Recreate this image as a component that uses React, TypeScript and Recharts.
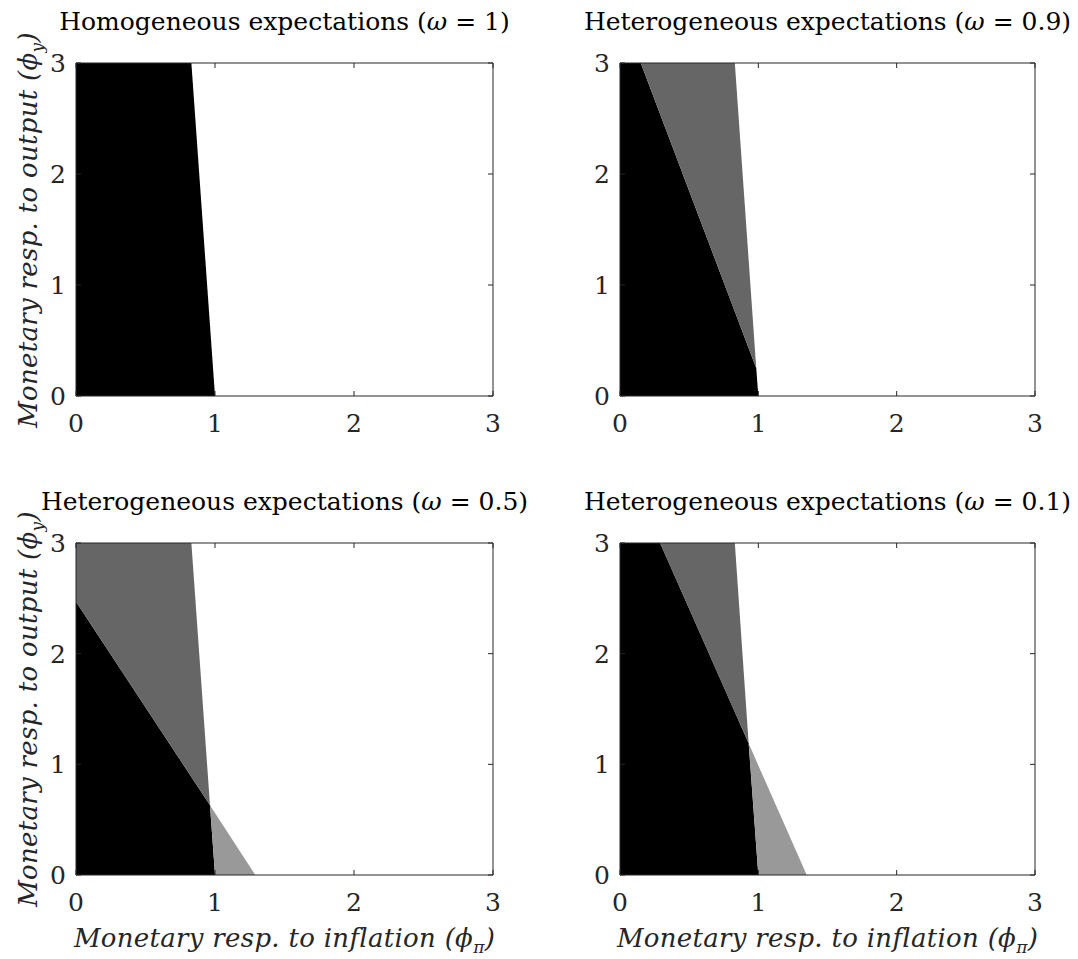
import React from 'react';
import { ComposedChart, Area, XAxis, YAxis } from 'recharts';

type Pt = { x: number; r: [number, number] };

const FONT = '"DejaVu Serif", serif';
const AXIS_TICKS = [0, 1, 2, 3];
const AXIS_DOMAIN: [number, number] = [0, 3];

const TITLES = [
  'Homogeneous expectations',
  'Heterogeneous expectations',
  'Heterogeneous expectations',
  'Heterogeneous expectations',
];
const OMEGAS = ['1', '0.9', '0.5', '0.1'];

const COLOR_BLACK = '#000000';
const COLOR_DARK = '#666666';
const COLOR_LIGHT = '#999999';

// omega = 1
const blackW1: Pt[] = [
  { x: 0, r: [0, 3] },
  { x: 0.83, r: [0, 3] },
  { x: 1, r: [0, 0] },
];
const darkW1: Pt[] = [];
const lightW1: Pt[] = [];

// omega = 0.9
const blackW09: Pt[] = [
  { x: 0, r: [0, 3] },
  { x: 0.15, r: [0, 3] },
  { x: 0.985, r: [0, 0.25] },
  { x: 1, r: [0, 0] },
];
const darkW09: Pt[] = [
  { x: 0.15, r: [3, 3] },
  { x: 0.83, r: [0.76, 3] },
  { x: 0.985, r: [0.25, 0.25] },
];
const lightW09: Pt[] = [];

// omega = 0.5
const blackW05: Pt[] = [
  { x: 0, r: [0, 2.47] },
  { x: 0.964, r: [0, 0.63] },
  { x: 1, r: [0, 0] },
];
const darkW05: Pt[] = [
  { x: 0, r: [2.47, 3] },
  { x: 0.83, r: [0.886, 3] },
  { x: 0.964, r: [0.63, 0.63] },
];
const lightW05: Pt[] = [
  { x: 0.964, r: [0.63, 0.63] },
  { x: 1, r: [0, 0.561] },
  { x: 1.29, r: [0, 0] },
];

// omega = 0.1
const blackW01: Pt[] = [
  { x: 0, r: [0, 3] },
  { x: 0.29, r: [0, 3] },
  { x: 0.93, r: [0, 1.19] },
  { x: 1, r: [0, 0] },
];
const darkW01: Pt[] = [
  { x: 0.29, r: [3, 3] },
  { x: 0.83, r: [1.47, 3] },
  { x: 0.93, r: [1.19, 1.19] },
];
const lightW01: Pt[] = [
  { x: 0.93, r: [1.19, 1.19] },
  { x: 1, r: [0, 0.99] },
  { x: 1.35, r: [0, 0] },
];

type Box = { left: number; top: number; width: number; height: number };
type Plot = { left: number; right: number; top: number; bottom: number };

const YW = 60;
const XH = 40;
const tickStyle = { fontSize: 25, fontFamily: FONT, fill: '#262626' };

const labelStyle: React.CSSProperties = {
  position: 'absolute',
  fontFamily: FONT,
  fontStyle: 'italic',
  fontSize: 26,
  letterSpacing: 0.3,
  lineHeight: 1,
  whiteSpace: 'nowrap',
  color: '#262626',
};

function Panel(props: {
  black: Pt[];
  dark: Pt[];
  light: Pt[];
  pos: Box;
  plot: Plot;
  title: string;
  omega: string;
  xLabel: boolean;
  yLabel: boolean;
}) {
  const { black, dark, light, pos, plot, title, omega, xLabel, yLabel } = props;
  const margin = {
    left: plot.left - YW,
    right: pos.width - plot.right - 1,
    top: plot.top - 1,
    bottom: pos.height - plot.bottom - XH,
  };
  const cx = (plot.left + plot.right) / 2;
  const cy = (plot.top + plot.bottom) / 2;
  return (
    <div style={{ position: 'absolute', left: pos.left, top: pos.top, width: pos.width, height: pos.height }}>
      <ComposedChart width={pos.width} height={pos.height} margin={margin}>
        {black.length > 0 && (
          <Area xAxisId="b" yAxisId="l" data={black} dataKey="r" type="linear" fill={COLOR_BLACK} fillOpacity={1} stroke="none" dot={false} activeDot={false} isAnimationActive={false} />
        )}
        {dark.length > 0 && (
          <Area xAxisId="b" yAxisId="l" data={dark} dataKey="r" type="linear" fill={COLOR_DARK} fillOpacity={1} stroke="none" dot={false} activeDot={false} isAnimationActive={false} />
        )}
        {light.length > 0 && (
          <Area xAxisId="b" yAxisId="l" data={light} dataKey="r" type="linear" fill={COLOR_LIGHT} fillOpacity={1} stroke="none" dot={false} activeDot={false} isAnimationActive={false} />
        )}
        <XAxis xAxisId="b" dataKey="x" type="number" orientation="bottom" domain={AXIS_DOMAIN} ticks={AXIS_TICKS} interval={0} allowDataOverflow height={XH} tickSize={-5} tickMargin={23} tick={tickStyle} stroke="#262626" />
        <XAxis xAxisId="t" dataKey="x" type="number" orientation="top" domain={AXIS_DOMAIN} ticks={AXIS_TICKS} interval={0} allowDataOverflow height={1} tickSize={-5} tickFormatter={() => ''} stroke="#262626" />
        <YAxis yAxisId="l" type="number" orientation="left" domain={AXIS_DOMAIN} ticks={AXIS_TICKS} interval={0} allowDataOverflow width={YW} tickSize={-5} tickMargin={15} tick={tickStyle} stroke="#262626" />
        <YAxis yAxisId="r" type="number" orientation="right" domain={AXIS_DOMAIN} ticks={AXIS_TICKS} interval={0} allowDataOverflow width={1} tickSize={-5} tickFormatter={() => ''} stroke="#262626" />
      </ComposedChart>
      <div
        style={{
          position: 'absolute',
          left: cx,
          top: plot.top - 42,
          transform: 'translate(-50%, -50%)',
          fontFamily: FONT,
          fontSize: 25,
          lineHeight: 1,
          whiteSpace: 'nowrap',
          color: '#000',
        }}
      >
        {title} (<i>ω</i> = {omega})
      </div>
      {xLabel && (
        <div style={{ ...labelStyle, left: cx, top: plot.bottom + 63, transform: 'translate(-50%, -50%)' }}>
          Monetary resp. to inflation (ϕ<sub style={{ fontSize: 17, lineHeight: 0 }}>π</sub>)
        </div>
      )}
      {yLabel && (
        <div style={{ ...labelStyle, left: 28, top: cy, transform: 'translate(-50%, -50%) rotate(-90deg)' }}>
          Monetary resp. to output (ϕ<sub style={{ fontSize: 17, lineHeight: 0 }}>y</sub>)
        </div>
      )}
    </div>
  );
}

export default function App() {
  return (
    <div style={{ position: 'absolute', left: 0, top: 0, width: 1078, height: 959, background: '#fff', overflow: 'hidden' }}>
      <Panel black={blackW1} dark={darkW1} light={lightW1} title={TITLES[0]} omega={OMEGAS[0]} xLabel={false} yLabel
        pos={{ left: 0, top: 0, width: 539, height: 479 }} plot={{ left: 76, right: 493, top: 63, bottom: 396 }} />
      <Panel black={blackW09} dark={darkW09} light={lightW09} title={TITLES[1]} omega={OMEGAS[1]} xLabel={false} yLabel={false}
        pos={{ left: 539, top: 0, width: 539, height: 479 }} plot={{ left: 81, right: 496, top: 63, bottom: 396 }} />
      <Panel black={blackW05} dark={darkW05} light={lightW05} title={TITLES[2]} omega={OMEGAS[2]} xLabel yLabel
        pos={{ left: 0, top: 479, width: 539, height: 480 }} plot={{ left: 76, right: 493, top: 64, bottom: 396 }} />
      <Panel black={blackW01} dark={darkW01} light={lightW01} title={TITLES[3]} omega={OMEGAS[3]} xLabel yLabel={false}
        pos={{ left: 539, top: 479, width: 539, height: 480 }} plot={{ left: 81, right: 496, top: 64, bottom: 396 }} />
    </div>
  );
}
